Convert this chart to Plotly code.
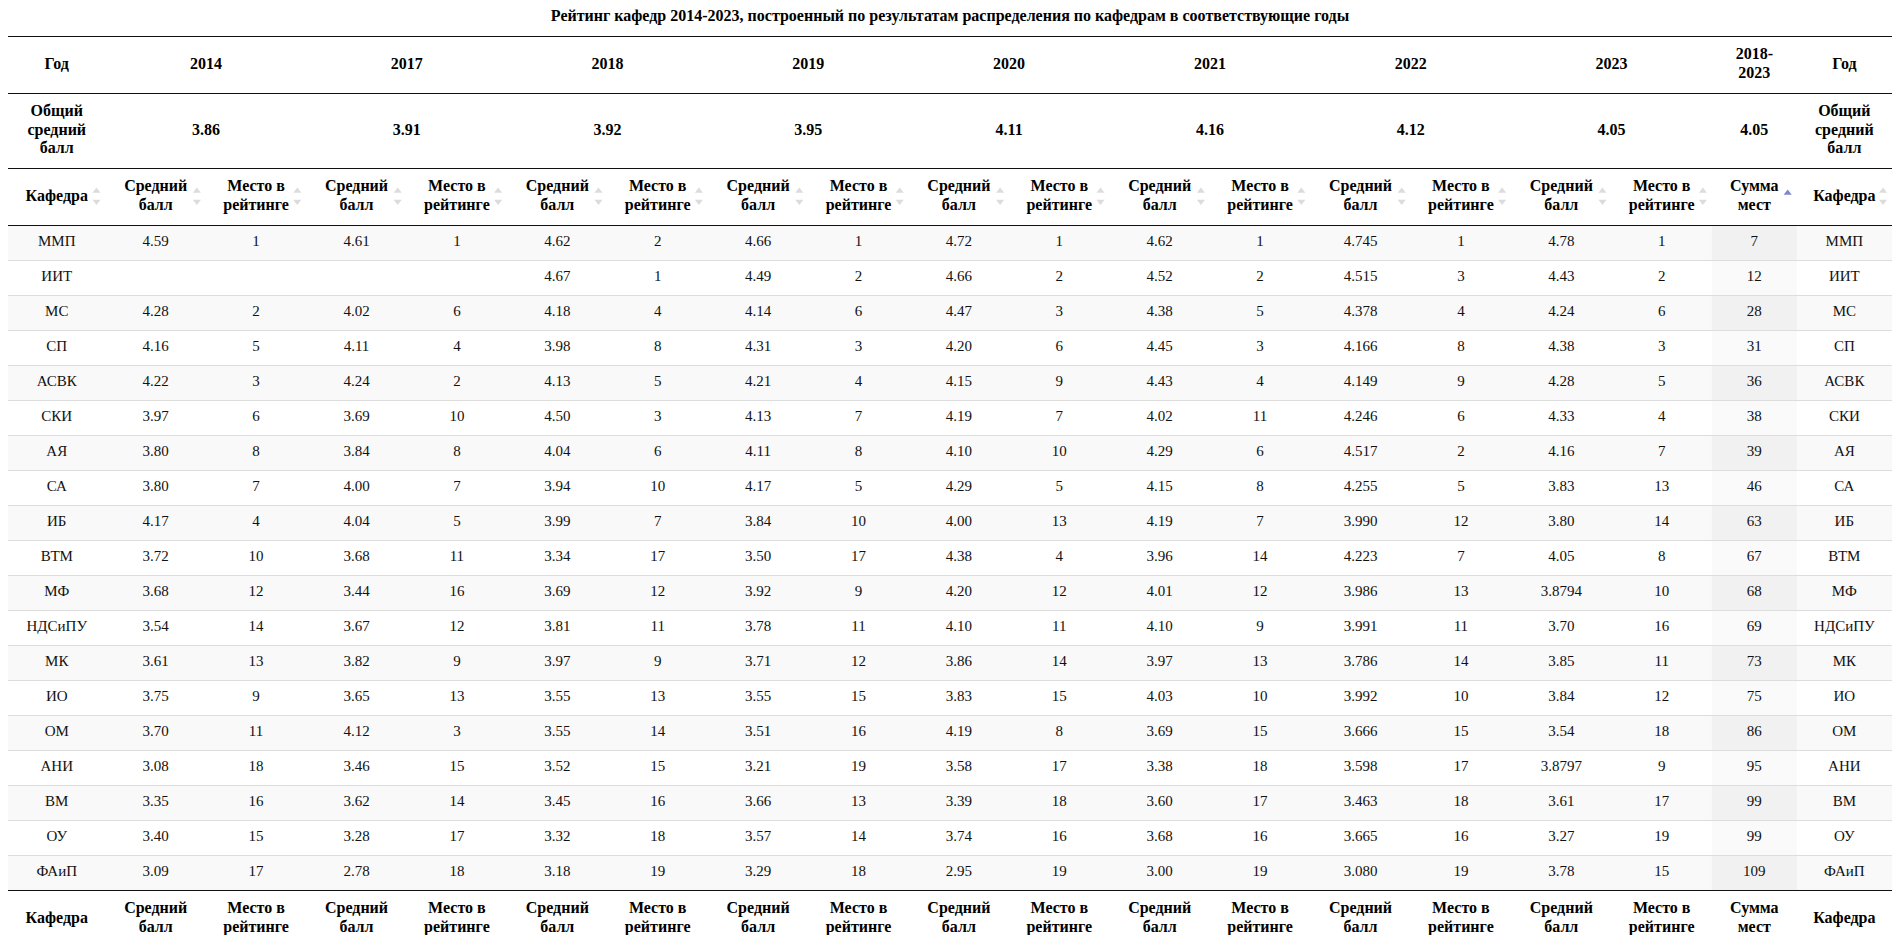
import plotly.graph_objects as go

# ---------------- data ----------------
departments = ["ММП", "ИИТ", "МС", "СП", "АСВК", "СКИ", "АЯ", "СА", "ИБ", "ВТМ",
               "МФ", "НДСиПУ", "МК", "ИО", "ОМ", "АНИ", "ВМ", "ОУ", "ФАиП"]
years = ["2014", "2017", "2018", "2019", "2020", "2021", "2022", "2023"]
overall_avg = ["3.86", "3.91", "3.92", "3.95", "4.11", "4.16", "4.12", "4.05"]
total_period = "2018-\n2023"
total_overall_avg = "4.05"

avg_2014 = ["4.59", "", "4.28", "4.16", "4.22", "3.97", "3.80", "3.80", "4.17", "3.72",
            "3.68", "3.54", "3.61", "3.75", "3.70", "3.08", "3.35", "3.40", "3.09"]
rank_2014 = ["1", "", "2", "5", "3", "6", "8", "7", "4", "10",
             "12", "14", "13", "9", "11", "18", "16", "15", "17"]
avg_2017 = ["4.61", "", "4.02", "4.11", "4.24", "3.69", "3.84", "4.00", "4.04", "3.68",
            "3.44", "3.67", "3.82", "3.65", "4.12", "3.46", "3.62", "3.28", "2.78"]
rank_2017 = ["1", "", "6", "4", "2", "10", "8", "7", "5", "11",
             "16", "12", "9", "13", "3", "15", "14", "17", "18"]
avg_2018 = ["4.62", "4.67", "4.18", "3.98", "4.13", "4.50", "4.04", "3.94", "3.99", "3.34",
            "3.69", "3.81", "3.97", "3.55", "3.55", "3.52", "3.45", "3.32", "3.18"]
rank_2018 = ["2", "1", "4", "8", "5", "3", "6", "10", "7", "17",
             "12", "11", "9", "13", "14", "15", "16", "18", "19"]
avg_2019 = ["4.66", "4.49", "4.14", "4.31", "4.21", "4.13", "4.11", "4.17", "3.84", "3.50",
            "3.92", "3.78", "3.71", "3.55", "3.51", "3.21", "3.66", "3.57", "3.29"]
rank_2019 = ["1", "2", "6", "3", "4", "7", "8", "5", "10", "17",
             "9", "11", "12", "15", "16", "19", "13", "14", "18"]
avg_2020 = ["4.72", "4.66", "4.47", "4.20", "4.15", "4.19", "4.10", "4.29", "4.00", "4.38",
            "4.20", "4.10", "3.86", "3.83", "4.19", "3.58", "3.39", "3.74", "2.95"]
rank_2020 = ["1", "2", "3", "6", "9", "7", "10", "5", "13", "4",
             "12", "11", "14", "15", "8", "17", "18", "16", "19"]
avg_2021 = ["4.62", "4.52", "4.38", "4.45", "4.43", "4.02", "4.29", "4.15", "4.19", "3.96",
            "4.01", "4.10", "3.97", "4.03", "3.69", "3.38", "3.60", "3.68", "3.00"]
rank_2021 = ["1", "2", "5", "3", "4", "11", "6", "8", "7", "14",
             "12", "9", "13", "10", "15", "18", "17", "16", "19"]
avg_2022 = ["4.745", "4.515", "4.378", "4.166", "4.149", "4.246", "4.517", "4.255", "3.990", "4.223",
            "3.986", "3.991", "3.786", "3.992", "3.666", "3.598", "3.463", "3.665", "3.080"]
rank_2022 = ["1", "3", "4", "8", "9", "6", "2", "5", "12", "7",
             "13", "11", "14", "10", "15", "17", "18", "16", "19"]
avg_2023 = ["4.78", "4.43", "4.24", "4.38", "4.28", "4.33", "4.16", "3.83", "3.80", "4.05",
            "3.8794", "3.70", "3.85", "3.84", "3.54", "3.8797", "3.61", "3.27", "3.78"]
rank_2023 = ["1", "2", "6", "3", "5", "4", "7", "13", "14", "8",
             "10", "16", "11", "12", "18", "9", "17", "19", "15"]
rank_sum = ["7", "12", "28", "31", "36", "38", "39", "46", "63", "67",
            "68", "69", "73", "75", "86", "95", "99", "99", "109"]

title_text = ("Рейтинг кафедр 2014-2023, построенный по результатам распределения "
              "по кафедрам в соответствующие годы")
label_year = "Год"
label_overall = "Общий\nсредний\nбалл"
label_dept = "Кафедра"
label_avg = "Средний\nбалл"
label_rank = "Место в\nрейтинге"
label_sum = "Сумма\nмест"

# ---------------- table assembly ----------------
columns = [departments,
           avg_2014, rank_2014, avg_2017, rank_2017, avg_2018, rank_2018,
           avg_2019, rank_2019, avg_2020, rank_2020, avg_2021, rank_2021,
           avg_2022, rank_2022, avg_2023, rank_2023,
           rank_sum, departments]
col_labels = [label_dept] + [label_avg, label_rank] * len(years) + [label_sum, label_dept]
SUM_COL = len(columns) - 2

# ---------------- layout geometry (screen pixels) ----------------
FIG_W, FIG_H = 1884, 927
OFF = 8
col_widths = [97.5] + [100.4] * 16 + [84.8, 95.3]
edges = [float(OFF)]
for w in col_widths:
    edges.append(edges[-1] + w)
centers = [(edges[i] + edges[i + 1]) / 2 for i in range(len(col_widths))]
X_L, X_R = edges[0], edges[-1]

Y_TITLE = 17
Y_LINES_BLACK = [36, 93, 168, 225]
Y_YEAR = 64.5
Y_OVERALL = 130.5
Y_HEAD = 196.5
ROW_TOP = 225
ROW_H = 35
N = len(departments)
Y_FOOT_TOP = ROW_TOP + ROW_H * N
Y_FOOT = Y_FOOT_TOP + 28.5
LH = 18.5

FONT = "Liberation Serif"
TXT = "#111111"

shapes = []
# row backgrounds
for r in range(N):
    y0 = ROW_TOP + ROW_H * r
    y1 = y0 + ROW_H
    odd = (r % 2 == 0)
    if odd:
        shapes.append(dict(type="rect", xref="x", yref="y", x0=X_L, x1=X_R, y0=y0, y1=y1,
                           fillcolor="#f9f9f9", line=dict(width=0), layer="below"))
    shapes.append(dict(type="rect", xref="x", yref="y",
                       x0=edges[SUM_COL], x1=edges[SUM_COL + 1], y0=y0, y1=y1,
                       fillcolor="#f1f1f1" if odd else "#fafafa", line=dict(width=0), layer="below"))
# row separators
for r in range(1, N):
    y = ROW_TOP + ROW_H * r + 0.5
    shapes.append(dict(type="line", xref="x", yref="y", x0=X_L, x1=X_R, y0=y, y1=y,
                       line=dict(color="#dddddd", width=1)))
# black header / footer rules
for y in Y_LINES_BLACK + [Y_FOOT_TOP]:
    shapes.append(dict(type="line", xref="x", yref="y", x0=X_L, x1=X_R, y0=y + 0.5, y1=y + 0.5,
                       line=dict(color="#111111", width=1)))

# ---------------- text collection ----------------
bx, by, bt = [], [], []  # bold text
def add_label(x, yc, label):
    parts = label.split("\n")
    n = len(parts)
    for k, p in enumerate(parts):
        bx.append(x)
        by.append(yc + (k - (n - 1) / 2) * LH)
        bt.append(p)

# row 1: years
add_label(centers[0], Y_YEAR, label_year)
for k, yr in enumerate(years):
    add_label((centers[1 + 2 * k] + centers[2 + 2 * k]) / 2, Y_YEAR, yr)
add_label(centers[SUM_COL], Y_YEAR, total_period)
add_label(centers[-1], Y_YEAR, label_year)
# row 2: overall averages
add_label(centers[0], Y_OVERALL, label_overall)
for k, v in enumerate(overall_avg):
    add_label((centers[1 + 2 * k] + centers[2 + 2 * k]) / 2, Y_OVERALL, v)
add_label(centers[SUM_COL], Y_OVERALL, total_overall_avg)
add_label(centers[-1], Y_OVERALL, label_overall)
# row 3 (column headers) and footer
for c, lab in enumerate(col_labels):
    add_label(centers[c], Y_HEAD, lab)
    add_label(centers[c], Y_FOOT, lab)

# body text
dx, dy, dt = [], [], []
for c, col in enumerate(columns):
    for r, v in enumerate(col):
        dx.append(centers[c])
        dy.append(ROW_TOP + ROW_H * (r + 0.5))
        dt.append(v)

# sort icons
ux, uy, dnx, dny = [], [], [], []
for c in range(len(col_labels)):
    if c == SUM_COL:
        continue
    ix = edges[c + 1] - 9.0
    ux.append(ix); uy.append(Y_HEAD - 5.5)
    dnx.append(ix); dny.append(Y_HEAD + 5.0)

fig = go.Figure()
fig.add_trace(go.Scatter(x=dx, y=dy, text=dt, mode="text", textposition="middle center",
                         textfont=dict(family=FONT, size=15, color=TXT), hoverinfo="skip"))
fig.add_trace(go.Scatter(x=bx, y=by, text=bt, mode="text", textposition="middle center",
                         textfont=dict(family=FONT, size=16, color="#000000", weight="bold"),
                         hoverinfo="skip"))
fig.add_trace(go.Scatter(x=ux, y=uy, mode="markers", hoverinfo="skip",
                         marker=dict(symbol="triangle-up", size=7, color="#dcdcdc")))
fig.add_trace(go.Scatter(x=dnx, y=dny, mode="markers", hoverinfo="skip",
                         marker=dict(symbol="triangle-down", size=7, color="#dcdcdc")))
fig.add_trace(go.Scatter(x=[edges[SUM_COL + 1] - 9.0], y=[Y_HEAD - 3.5], mode="markers",
                         hoverinfo="skip",
                         marker=dict(symbol="triangle-up", size=7, color="#7d86d3")))
fig.add_trace(go.Scatter(x=[(X_L + X_R) / 2], y=[Y_TITLE], text=[title_text], mode="text",
                         textposition="middle center", hoverinfo="skip",
                         textfont=dict(family=FONT, size=16, color="#000000", weight="bold")))

fig.update_layout(
    width=FIG_W, height=FIG_H,
    margin=dict(l=0, r=0, t=0, b=0),
    paper_bgcolor="white", plot_bgcolor="white",
    showlegend=False, hovermode=False,
    shapes=shapes,
    xaxis=dict(range=[OFF, OFF + FIG_W], visible=False, fixedrange=True),
    yaxis=dict(range=[OFF + FIG_H, OFF], visible=False, fixedrange=True),
)
fig.write_html("out.html")
